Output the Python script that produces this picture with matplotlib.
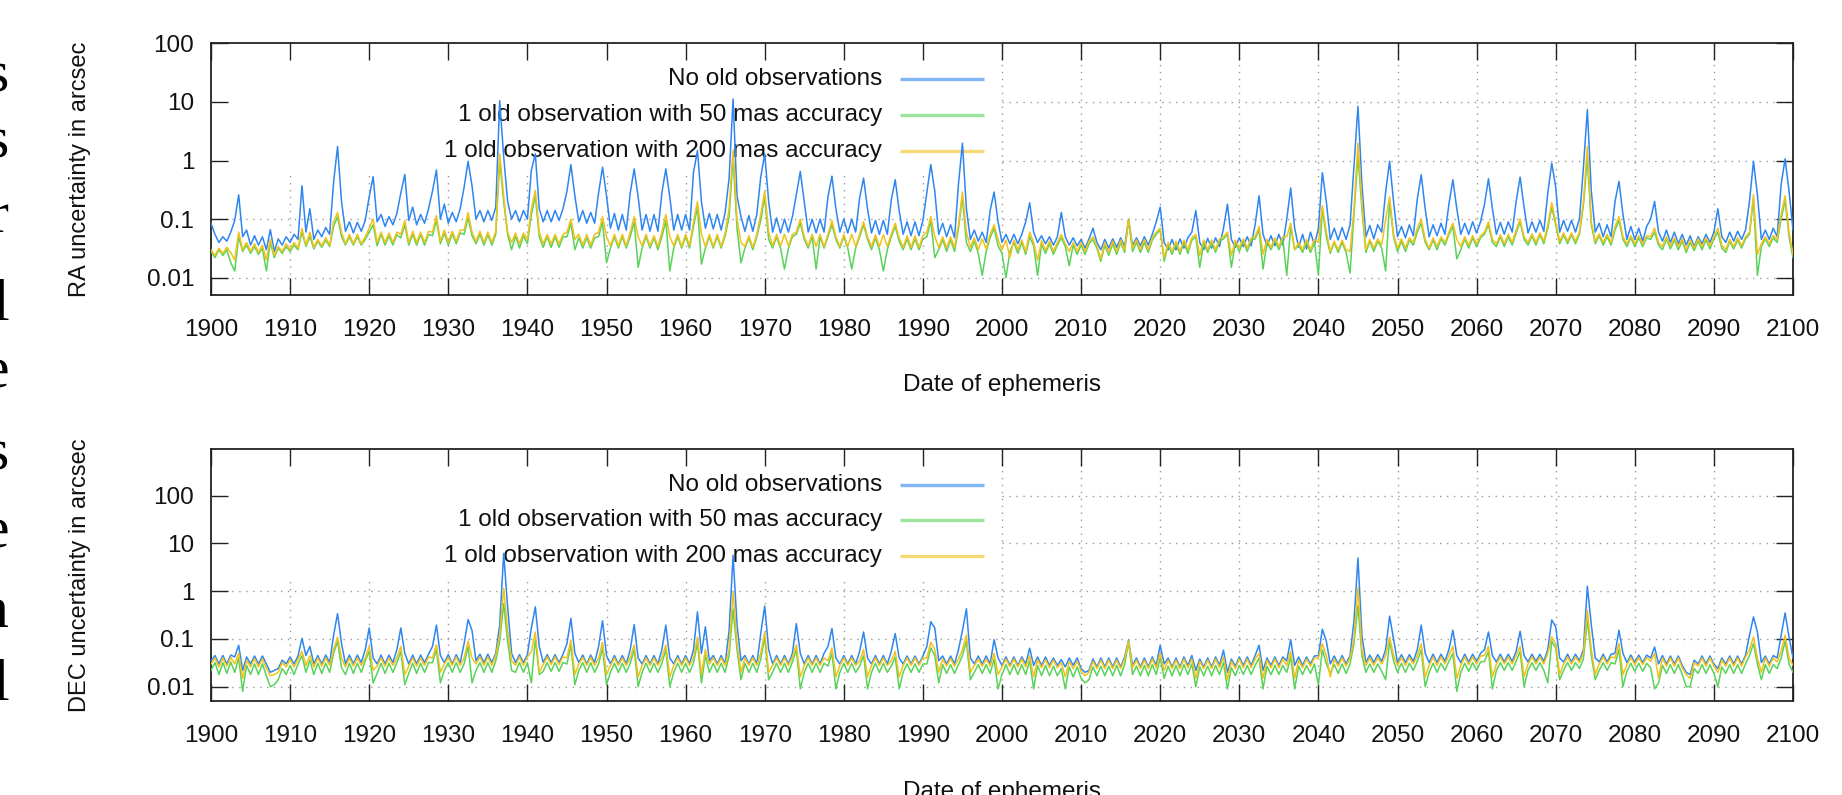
import numpy as np
import matplotlib
matplotlib.use("Agg")
import matplotlib.pyplot as plt
from matplotlib.ticker import FixedLocator, FixedFormatter, NullLocator

# ---------------------------------------------------------------------------
# Data: uncertainty in milli-arcseconds, one value every half year, 1900.0 ... 2100.0
# ---------------------------------------------------------------------------
START_YEAR = 1900.0
STEP_YEARS = 0.5

series_labels = ["No old observations",
                 "1 old observation with 50 mas accuracy",
                 "1 old observation with 200 mas accuracy"]

# ---- RA, no old observations
ra_none_mas = [
    85, 55, 40, 50, 42, 60, 95, 260, 50, 65, 36, 52, 36, 50, 30, 66, 28, 46, 36, 50,          # 1900s
    40, 55, 45, 370, 60, 150, 45, 65, 50, 72, 55, 430, 1730, 200, 62, 90, 58, 88, 62, 95,     # 1910s
    240, 530, 90, 120, 75, 110, 80, 125, 280, 580, 95, 160, 80, 120, 85, 150, 300, 690, 100, 180,  # 1920s
    85, 130, 90, 150, 350, 970, 370, 100, 140, 90, 140, 95, 160, 10500, 1170, 200, 100, 140, 90, 140,  # 1930s
    100, 680, 1300, 150, 90, 140, 90, 140, 95, 150, 300, 850, 250, 90, 140, 85, 130, 85, 280, 770,  # 1940s
    250, 70, 125, 65, 120, 65, 280, 720, 240, 65, 120, 62, 120, 62, 280, 720, 240, 65, 120, 65,  # 1950s
    120, 65, 630, 1480, 200, 70, 125, 68, 120, 65, 130, 500, 11200, 250, 110, 62, 115, 62, 120, 520,  # 1960s
    1300, 200, 60, 105, 58, 100, 60, 110, 260, 650, 200, 60, 100, 58, 100, 60, 240, 540, 150, 60,  # 1970s
    100, 58, 100, 60, 230, 500, 150, 58, 95, 55, 95, 55, 210, 470, 140, 55, 90, 52, 90, 52,   # 1980s
    95, 280, 850, 300, 55, 85, 50, 80, 48, 400, 1970, 150, 45, 65, 42, 60, 40, 140, 290, 90,  # 1990s
    40, 55, 38, 55, 38, 55, 90, 190, 60, 40, 52, 38, 50, 36, 50, 130, 50, 36, 48, 35,         # 2000s
    45, 32, 46, 70, 40, 30, 45, 32, 46, 33, 48, 34, 100, 35, 48, 35, 50, 36, 55, 90,          # 2010s
    160, 40, 30, 45, 30, 46, 32, 48, 60, 140, 40, 30, 47, 32, 48, 34, 70, 180, 45, 33,        # 2020s
    48, 34, 50, 35, 80, 250, 55, 35, 52, 35, 55, 36, 100, 340, 70, 33, 55, 31, 60, 36,        # 2030s
    70, 620, 200, 45, 70, 44, 72, 45, 80, 820, 8400, 400, 50, 78, 46, 80, 60, 290, 970, 200,  # 2040s
    50, 75, 48, 80, 52, 220, 570, 150, 50, 80, 52, 85, 55, 180, 470, 150, 55, 85, 55, 90,     # 2050s
    58, 90, 180, 490, 150, 55, 88, 55, 90, 60, 200, 520, 160, 58, 90, 60, 95, 62, 280, 900,   # 2060s
    350, 60, 95, 62, 95, 60, 100, 750, 7400, 300, 60, 85, 50, 80, 50, 200, 440, 120, 45, 75,  # 2070s
    45, 70, 42, 75, 100, 200, 60, 42, 65, 40, 60, 38, 55, 36, 52, 34, 50, 38, 55, 40,         # 2080s
    60, 150, 50, 40, 60, 42, 62, 45, 65, 200, 970, 260, 45, 65, 45, 70, 50, 390, 1070, 300,   # 2090s
    65,
]

# ---- RA, 1 old observation with 50 mas accuracy
ra_50_mas = [
    28, 22, 30, 24, 30, 18, 13, 50, 28, 36, 26, 34, 25, 32, 13, 40, 22, 32, 26, 34,
    28, 36, 30, 60, 34, 50, 31, 42, 33, 44, 34, 75, 110, 50, 36, 50, 36, 50, 36, 45,
    60, 80, 35, 55, 36, 52, 36, 54, 48, 80, 36, 55, 36, 54, 36, 55, 52, 95, 38, 58,
    36, 56, 38, 58, 55, 105, 52, 38, 55, 36, 54, 36, 55, 1000, 200, 55, 30, 52, 32, 52,
    38, 120, 250, 50, 33, 50, 33, 50, 33, 50, 50, 85, 30, 48, 32, 48, 32, 48, 50, 90,
    18, 32, 50, 32, 50, 32, 50, 90, 15, 32, 50, 32, 48, 30, 50, 95, 13, 32, 50, 32,
    50, 32, 75, 160, 17, 32, 50, 32, 50, 32, 52, 110, 1100, 70, 18, 32, 48, 30, 50, 95,
    240, 45, 32, 50, 32, 14, 32, 50, 55, 85, 45, 32, 50, 14, 50, 32, 50, 80, 45, 32,
    50, 32, 14, 32, 50, 80, 45, 30, 48, 30, 13, 30, 50, 75, 42, 30, 46, 30, 46, 30,
    46, 50, 95, 22, 30, 45, 28, 45, 28, 70, 240, 40, 28, 42, 26, 11, 28, 48, 70, 35,
    26, 10, 28, 40, 26, 40, 25, 50, 35, 11, 38, 26, 38, 25, 36, 48, 34, 16, 36, 25,
    36, 25, 38, 45, 32, 19, 36, 24, 38, 25, 40, 27, 95, 28, 40, 27, 40, 27, 44, 55,
    65, 19, 36, 25, 38, 25, 40, 26, 44, 50, 15, 40, 27, 40, 27, 42, 46, 55, 15, 40,
    28, 42, 28, 44, 46, 65, 14, 40, 30, 44, 30, 46, 11, 75, 30, 36, 27, 40, 27, 40,
    11, 150, 50, 26, 40, 27, 40, 27, 12, 120, 1200, 150, 27, 42, 28, 42, 32, 13, 200, 50,
    28, 42, 28, 44, 36, 60, 85, 40, 30, 44, 30, 46, 36, 55, 75, 21, 30, 46, 32, 48,
    34, 48, 55, 80, 40, 34, 50, 34, 50, 36, 58, 90, 45, 36, 52, 36, 54, 38, 70, 160,
    80, 38, 54, 38, 54, 38, 55, 170, 1100, 80, 38, 52, 36, 50, 36, 65, 95, 45, 34, 48,
    34, 48, 34, 48, 45, 60, 36, 30, 46, 31, 44, 30, 42, 27, 40, 29, 42, 30, 44, 31,
    46, 60, 32, 27, 42, 31, 44, 32, 46, 55, 220, 11, 34, 46, 34, 48, 40, 100, 210, 50,
    22,
]

# ---- RA, 1 old observation with 200 mas accuracy
ra_200_mas = [
    30, 24, 32, 26, 33, 27, 20, 60, 30, 40, 28, 38, 27, 36, 20, 45, 24, 34, 28, 38,
    30, 40, 32, 70, 36, 60, 33, 45, 35, 48, 36, 90, 130, 60, 38, 55, 38, 55, 38, 50,
    70, 100, 40, 60, 40, 58, 40, 60, 55, 95, 40, 62, 40, 60, 40, 62, 60, 115, 42, 65,
    40, 62, 42, 65, 65, 130, 60, 42, 62, 40, 60, 40, 62, 1300, 250, 60, 40, 58, 38, 58,
    45, 150, 310, 60, 38, 55, 38, 55, 38, 55, 60, 100, 45, 55, 36, 55, 36, 55, 60, 110,
    50, 35, 55, 35, 55, 35, 60, 110, 50, 35, 55, 35, 52, 34, 60, 120, 50, 35, 55, 34,
    55, 35, 90, 200, 55, 34, 55, 34, 55, 34, 58, 150, 1500, 100, 40, 34, 52, 33, 55, 120,
    300, 60, 35, 55, 35, 55, 35, 55, 60, 100, 50, 35, 55, 34, 55, 34, 55, 95, 50, 34,
    55, 34, 55, 34, 55, 90, 50, 34, 54, 34, 54, 34, 55, 85, 48, 33, 52, 33, 52, 33,
    52, 60, 110, 50, 33, 50, 32, 50, 33, 80, 290, 60, 33, 48, 30, 46, 31, 55, 80, 45,
    30, 44, 22, 44, 30, 44, 28, 60, 40, 20, 43, 29, 42, 28, 40, 55, 38, 28, 40, 28,
    40, 28, 42, 50, 35, 21, 40, 27, 42, 28, 44, 30, 100, 32, 44, 30, 45, 30, 48, 60,
    70, 22, 40, 28, 42, 28, 44, 30, 48, 55, 24, 44, 30, 44, 30, 46, 50, 60, 24, 44,
    32, 46, 32, 48, 50, 75, 25, 45, 33, 48, 34, 50, 50, 85, 30, 40, 30, 45, 30, 45,
    40, 170, 60, 28, 42, 30, 44, 30, 28, 150, 1970, 200, 30, 45, 32, 46, 36, 100, 240, 55,
    32, 46, 32, 48, 40, 70, 100, 45, 32, 48, 34, 50, 40, 60, 85, 45, 34, 50, 36, 52,
    38, 52, 60, 90, 45, 38, 54, 38, 55, 40, 65, 100, 50, 40, 56, 40, 58, 42, 80, 190,
    90, 42, 58, 42, 58, 42, 60, 200, 1730, 90, 42, 56, 40, 55, 40, 75, 110, 50, 38, 52,
    38, 52, 38, 52, 50, 70, 40, 34, 50, 35, 48, 34, 46, 30, 44, 32, 46, 34, 48, 35,
    50, 70, 36, 30, 45, 34, 48, 35, 50, 60, 260, 25, 38, 50, 38, 52, 45, 120, 250, 60,
    25,
]

# ---- DEC, no old observations
dec_none_mas = [
    35, 45, 30, 45, 30, 46, 42, 74, 22, 42, 30, 44, 30, 44, 30, 20, 22, 24, 36, 30,
    42, 30, 44, 103, 45, 70, 30, 45, 30, 46, 32, 120, 340, 80, 30, 46, 30, 46, 32, 60,
    170, 40, 30, 46, 30, 46, 32, 60, 170, 50, 30, 46, 30, 46, 32, 48, 70, 195, 45, 32,
    47, 30, 47, 32, 80, 255, 150, 35, 48, 32, 48, 32, 50, 200, 6200, 470, 50, 32, 47, 32,
    47, 170, 470, 70, 32, 47, 32, 47, 32, 48, 80, 270, 50, 32, 46, 30, 46, 32, 70, 240,
    45, 30, 45, 30, 45, 30, 60, 200, 40, 30, 45, 30, 45, 30, 60, 195, 40, 30, 45, 30,
    45, 30, 60, 370, 50, 180, 35, 45, 30, 45, 30, 150, 5660, 200, 35, 45, 30, 45, 30, 130,
    490, 60, 30, 45, 30, 45, 30, 50, 210, 50, 30, 45, 30, 45, 30, 50, 70, 166, 40, 30,
    45, 30, 45, 30, 55, 140, 40, 30, 45, 30, 45, 30, 55, 130, 40, 30, 44, 30, 44, 30,
    44, 70, 230, 170, 35, 44, 30, 44, 30, 60, 150, 430, 40, 30, 44, 30, 44, 30, 97, 40,
    28, 42, 28, 42, 28, 42, 30, 64, 28, 42, 28, 42, 28, 40, 28, 37, 26, 40, 28, 40,
    24, 20, 22, 38, 26, 40, 26, 40, 26, 40, 26, 42, 94, 28, 40, 26, 40, 26, 42, 28,
    74, 30, 40, 26, 40, 26, 42, 28, 45, 22, 38, 26, 40, 26, 42, 28, 58, 20, 38, 27,
    42, 28, 42, 28, 45, 74, 22, 40, 28, 42, 28, 42, 35, 97, 28, 42, 28, 42, 30, 44,
    45, 160, 90, 30, 44, 30, 45, 30, 45, 240, 4970, 120, 32, 46, 32, 47, 34, 60, 300, 100,
    32, 47, 32, 47, 34, 60, 195, 50, 32, 48, 32, 48, 34, 60, 153, 45, 32, 48, 33, 48,
    34, 50, 60, 140, 45, 33, 48, 33, 48, 34, 55, 145, 45, 33, 48, 34, 48, 34, 60, 250,
    180, 40, 33, 48, 33, 48, 35, 60, 1270, 200, 40, 33, 48, 33, 48, 50, 153, 50, 32, 46,
    32, 46, 32, 46, 40, 68, 30, 45, 30, 44, 30, 44, 28, 20, 18, 36, 30, 44, 30, 44,
    30, 24, 40, 30, 44, 30, 44, 30, 46, 120, 290, 140, 32, 44, 30, 45, 40, 120, 350, 110,
    40,
]

# ---- DEC, 1 old observation with 50 mas accuracy
dec_50_mas = [
    22, 32, 18, 32, 19, 33, 20, 40, 8, 28, 18, 30, 18, 30, 17, 10, 11, 14, 24, 18,
    28, 18, 30, 45, 20, 36, 18, 31, 19, 31, 20, 50, 90, 25, 18, 31, 19, 31, 20, 35,
    55, 12, 19, 31, 19, 31, 20, 32, 55, 11, 19, 31, 19, 31, 20, 32, 32, 60, 12, 22,
    32, 20, 32, 20, 30, 70, 12, 22, 32, 20, 32, 20, 35, 90, 550, 90, 22, 20, 32, 20,
    32, 12, 100, 18, 21, 32, 21, 32, 21, 32, 30, 75, 11, 22, 32, 20, 32, 20, 30, 65,
    11, 20, 31, 20, 31, 20, 31, 60, 10, 20, 31, 20, 31, 20, 31, 60, 10, 20, 31, 20,
    31, 20, 31, 85, 12, 45, 20, 31, 20, 31, 20, 45, 420, 60, 14, 31, 20, 31, 20, 38,
    110, 14, 20, 31, 20, 31, 20, 33, 60, 9, 20, 31, 20, 31, 20, 31, 27, 50, 9, 20,
    31, 20, 31, 20, 27, 45, 9, 20, 31, 20, 31, 20, 27, 42, 9, 20, 30, 20, 30, 20,
    30, 30, 65, 45, 12, 29, 19, 29, 19, 29, 45, 90, 14, 20, 29, 19, 29, 19, 38, 9,
    18, 29, 18, 29, 18, 29, 18, 35, 9, 28, 17, 28, 17, 27, 17, 24, 9, 26, 16, 26,
    15, 12, 14, 26, 17, 27, 17, 27, 17, 28, 17, 29, 85, 18, 27, 17, 28, 17, 29, 18,
    40, 15, 27, 17, 28, 17, 29, 18, 30, 10, 26, 17, 27, 17, 28, 18, 32, 9, 25, 17,
    28, 18, 28, 18, 28, 40, 9, 27, 18, 28, 18, 28, 20, 42, 9, 27, 18, 28, 19, 30,
    11, 60, 30, 19, 29, 19, 30, 19, 30, 80, 500, 45, 20, 30, 20, 30, 21, 14, 90, 35,
    20, 31, 20, 31, 22, 34, 60, 10, 20, 31, 20, 31, 22, 34, 50, 8, 20, 31, 21, 32,
    22, 33, 34, 55, 9, 22, 32, 22, 32, 22, 34, 55, 10, 22, 32, 22, 32, 22, 12, 90,
    65, 14, 22, 32, 22, 32, 24, 38, 250, 45, 14, 22, 32, 22, 32, 30, 60, 10, 21, 31,
    21, 31, 21, 31, 25, 9, 12, 28, 19, 29, 19, 29, 18, 10, 10, 24, 19, 29, 19, 29,
    19, 10, 26, 19, 29, 19, 29, 19, 30, 45, 80, 30, 14, 29, 19, 29, 24, 40, 90, 30,
    20,
]

# ---- DEC, 1 old observation with 200 mas accuracy
dec_200_mas = [
    30, 40, 26, 40, 27, 41, 30, 50, 15, 36, 26, 39, 26, 38, 24, 17, 18, 20, 32, 26,
    37, 26, 38, 55, 28, 45, 26, 40, 27, 40, 28, 60, 110, 40, 26, 40, 27, 40, 28, 40,
    70, 22, 27, 40, 27, 40, 28, 40, 70, 18, 27, 40, 27, 40, 28, 42, 40, 75, 20, 30,
    41, 28, 42, 28, 40, 90, 40, 30, 42, 28, 42, 28, 45, 120, 1150, 150, 35, 28, 42, 28,
    42, 55, 140, 20, 29, 42, 29, 42, 29, 42, 40, 95, 18, 30, 41, 28, 41, 28, 40, 85,
    18, 28, 40, 28, 40, 28, 40, 75, 16, 28, 40, 28, 40, 28, 40, 75, 16, 28, 40, 28,
    40, 28, 40, 110, 18, 60, 30, 40, 28, 40, 28, 60, 970, 80, 20, 40, 28, 40, 28, 50,
    140, 20, 28, 40, 28, 40, 28, 42, 75, 16, 28, 40, 28, 40, 28, 40, 35, 65, 16, 28,
    40, 28, 40, 28, 35, 60, 16, 28, 40, 28, 40, 28, 35, 55, 16, 28, 40, 28, 40, 28,
    40, 40, 85, 60, 20, 38, 27, 39, 27, 38, 60, 120, 20, 28, 38, 27, 38, 27, 50, 18,
    26, 38, 26, 38, 26, 38, 26, 45, 16, 37, 25, 37, 25, 36, 25, 32, 16, 34, 24, 34,
    21, 17, 20, 34, 24, 36, 24, 36, 24, 36, 24, 38, 90, 25, 36, 24, 36, 24, 38, 25,
    50, 22, 36, 24, 36, 24, 38, 25, 38, 15, 34, 24, 36, 24, 38, 25, 42, 14, 34, 24,
    38, 25, 38, 25, 38, 50, 15, 36, 25, 38, 25, 38, 28, 55, 15, 36, 25, 38, 27, 40,
    40, 80, 45, 16, 38, 27, 40, 27, 40, 100, 1200, 60, 28, 40, 28, 41, 30, 45, 110, 45,
    28, 41, 28, 41, 30, 45, 80, 16, 28, 42, 28, 42, 30, 45, 70, 15, 28, 42, 29, 42,
    30, 44, 45, 70, 16, 30, 42, 30, 42, 30, 45, 70, 16, 30, 42, 30, 42, 30, 50, 110,
    80, 18, 30, 42, 30, 42, 32, 50, 400, 60, 18, 30, 42, 30, 42, 40, 80, 18, 29, 41,
    29, 41, 29, 41, 34, 50, 15, 40, 27, 40, 27, 40, 25, 18, 15, 32, 27, 40, 27, 40,
    27, 20, 36, 27, 40, 27, 40, 27, 42, 60, 110, 40, 20, 40, 27, 40, 33, 55, 120, 40,
    28,
]

x_ticks = list(range(1900, 2101, 10))
x_tick_labels = [str(v) for v in x_ticks]
y_ticks = [0.01, 0.1, 1, 10, 100]
y_tick_labels = ["0.01", "0.1", "1", "10", "100"]

# stray letters of the neighbouring text column (cut at the left page edge)
side_letters = ["s", "s", "r", "l", "e", "s", "e", "n", "l"]
side_baselines_px = [92, 157, 232, 320, 387, 470, 547, 627, 700]

# ---------------------------------------------------------------------------
colors = ["#2e86f0", "#5ad25a", "#f2c21b"]
W, H = 1842, 795

plt.rcParams["font.family"] = ["Liberation Sans", "DejaVu Sans"]
fig = plt.figure(figsize=(W / 100, H / 100), dpi=100)
fig.patch.set_facecolor("white")

ax1 = fig.add_axes([0.11455, 0.62893, 0.85885, 0.31660])
ax2 = fig.add_axes([0.11455, 0.11862, 0.85885, 0.31660])


def years_of(vals):
    return START_YEAR + STEP_YEARS * np.arange(len(vals))


def style_axis(ax, ylim, ylabel, xlabel_y):
    ax.set_xlim(1900, 2100)
    ax.set_yscale("log")
    ax.set_ylim(*ylim)
    ax.xaxis.set_major_locator(FixedLocator(x_ticks))
    ax.xaxis.set_major_formatter(FixedFormatter(x_tick_labels))
    ax.yaxis.set_major_locator(FixedLocator(y_ticks))
    ax.yaxis.set_major_formatter(FixedFormatter(y_tick_labels))
    ax.yaxis.set_minor_locator(NullLocator())
    ax.xaxis.set_minor_locator(NullLocator())
    ax.tick_params(which="major", direction="in", length=12.5, width=1.0,
                   color="#222222", top=True, right=True, labelsize=17.5,
                   labelcolor="#111111")
    ax.tick_params(axis="x", pad=17.5)
    ax.tick_params(axis="y", pad=12)
    for sp in ax.spines.values():
        sp.set_linewidth(1.3)
        sp.set_color("#222222")
    ax.set_ylabel(ylabel, fontsize=17, color="#111111")
    ax.yaxis.label.set_va("center")
    ax.yaxis.set_label_coords(-0.083, 0.5)
    ax.set_xlabel("Date of ephemeris", fontsize=17.5, color="#111111")
    ax.xaxis.label.set_va("center")
    ax.xaxis.set_label_coords(0.5, xlabel_y)

    # gnuplot-like dotted grid, interrupted by the (opaque) key area
    cut_x, cut_y = 0.5, 0.49
    xmin, xmax = ax.get_xlim()
    for xv in x_ticks[1:-1]:
        fx = (xv - xmin) / (xmax - xmin)
        top = cut_y if fx < cut_x else 1.0
        ax.plot([xv, xv], [0, top], transform=ax.get_xaxis_transform(),
                ls=(0, (1, 4)), color="#9a9a9a", lw=1.0, zorder=0.5)
    lo, hi = np.log10(ylim[0]), np.log10(ylim[1])
    for yv in y_ticks:
        fy = (np.log10(yv) - lo) / (hi - lo)
        if fy >= 0.999:
            continue
        left = cut_x if fy > cut_y else 0.0
        ax.plot([left, 1.0], [yv, yv], transform=ax.get_yaxis_transform(),
                ls=(0, (1, 4)), color="#9a9a9a", lw=1.0, zorder=0.5)


def draw_panel(ax, series):
    for vals, col in zip(series, colors):
        ax.plot(years_of(vals), np.asarray(vals) / 1000.0, color=col, lw=1.1,
                zorder=3, solid_joinstyle="round")
    rows = [0.858, 0.716, 0.574]
    for lab, col, ry in zip(series_labels, colors, rows):
        ax.text(0.424, ry, lab, transform=ax.transAxes, ha="right", va="center",
                fontsize=17.5, color="#111111", zorder=2)
        ax.plot([0.4355, 0.4886], [ry, ry], transform=ax.transAxes, color=col,
                lw=2.4, alpha=0.6, zorder=2, solid_capstyle="butt")


style_axis(ax1, (0.00507, 100), "RA uncertainty in arcsec", -0.3576)
draw_panel(ax1, [ra_none_mas, ra_50_mas, ra_200_mas])

style_axis(ax2, (0.0051, 950), "DEC uncertainty in arcsec", -0.362)
draw_panel(ax2, [dec_none_mas, dec_50_mas, dec_200_mas])

for ch, by in zip(side_letters, side_baselines_px):
    fig.text(9 / W, 1 - by / H, ch, ha="right", va="baseline", fontsize=43,
             family=["Liberation Serif", "DejaVu Serif"], color="black")

fig.savefig("out.png", dpi=100, facecolor="white")
